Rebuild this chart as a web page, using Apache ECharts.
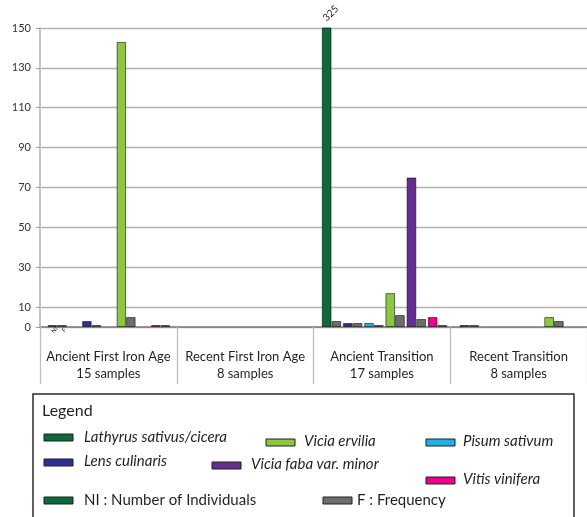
<!DOCTYPE html>
<html>
<head>
<meta charset="utf-8">
<script src="https://cdn.jsdelivr.net/npm/echarts@6/dist/echarts.min.js"></script>
<style>
  html, body { margin: 0; padding: 0; background: #fff; }
  #chart { width: 587px; height: 517px; }
</style>
</head>
<body>
<div id="chart"></div>
<script>
// Periods on the horizontal axis and their sample counts
const periods = ['Ancient First Iron Age', 'Recent First Iron Age', 'Ancient Transition', 'Recent Transition'];
const sampleCounts = [15, 8, 17, 8];
const yTicks = [0, 10, 30, 50, 70, 90, 110, 130, 150];

// Ancient First Iron Age
const afiaTaxa = ['Lathyrus sativus/cicera', 'Lens culinaris', 'Vicia ervilia', 'Vitis vinifera'];
const afiaNI = [1, 3, 143, 1];
const afiaF = [1, 1, 5, 1];

// Ancient Transition
const atTaxa = ['Lathyrus sativus/cicera', 'Lens culinaris', 'Pisum sativum', 'Vicia ervilia', 'Vicia faba var. minor', 'Vitis vinifera'];
const atNI = [325, 2, 2, 17, 75, 5];
const atF = [3, 2, 1, 6, 4, 1];

// Recent Transition (null = taxon absent)
const rtTaxa = ['Lathyrus sativus/cicera', 'Lens culinaris', 'Pisum sativum', 'Vicia faba var. minor', 'Vicia ervilia', 'Vitis vinifera'];
const rtNI = [1, null, null, null, 5, null];
const rtF = [1, null, null, null, 3, null];

const taxonColors = {
  'Lathyrus sativus/cicera': '#0b6b3a',
  'Lens culinaris': '#2e3192',
  'Pisum sativum': '#1fb0e6',
  'Vicia ervilia': '#8dc63f',
  'Vicia faba var. minor': '#662d91',
  'Vitis vinifera': '#ec008c'
};
const freqColor = '#6d6e70';
const yMax = 150;
const FONT = 'Lato, "Open Sans", sans-serif';

const chart = echarts.init(document.getElementById('chart'), null, { renderer: 'canvas' });

const plotTop = 28, plotHeight = 299;
const grids = [
  { left: 40, top: plotTop, width: 551, height: plotHeight },       // frame: axes and gridlines
  { left: 40, top: plotTop, width: 137.75, height: plotHeight },    // Ancient First Iron Age bars
  { left: 320.9, top: plotTop, width: 127.2, height: plotHeight },  // Ancient Transition bars
  { left: 458.6, top: plotTop, width: 127.2, height: plotHeight }   // Recent Transition bars
];

const barBorder = { borderColor: 'rgba(0,0,0,0.55)', borderWidth: 1 };

function pairSeries(gridIdx, taxa, ni, f, tagFirst, barWidth, catGap) {
  const niData = ni.map((v, i) => {
    if (v == null) return null;
    const item = { value: v, itemStyle: Object.assign({ color: taxonColors[taxa[i]] }, barBorder) };
    if (v > yMax) {
      // value beyond the axis range: the bar is clipped and its value written above it
      item.label = {
        show: true, position: 'top', distance: 3, rotate: 45,
        align: 'left', verticalAlign: 'bottom', offset: [2, 0],
        formatter: '{c}', fontSize: 10, fontFamily: FONT, color: '#231f20'
      };
    }
    if (tagFirst && i === 0) {
      item.label = {
        show: true, position: 'bottom', distance: 1, rotate: 45,
        formatter: 'NI', fontSize: 6, fontFamily: FONT, color: '#231f20'
      };
    }
    return item;
  });
  const fData = f.map((v, i) => {
    if (v == null) return null;
    const item = { value: v };
    if (tagFirst && i === 0) {
      item.label = {
        show: true, position: 'bottom', distance: 1, rotate: 45,
        formatter: 'F', fontSize: 6, fontFamily: FONT, color: '#231f20'
      };
    }
    return item;
  });
  return [
    {
      name: 'NI', type: 'bar', xAxisIndex: gridIdx, yAxisIndex: gridIdx,
      data: niData, barWidth: barWidth, barGap: '0%', barCategoryGap: catGap,
      itemStyle: barBorder, animation: false
    },
    {
      name: 'F', type: 'bar', xAxisIndex: gridIdx, yAxisIndex: gridIdx,
      data: fData, barWidth: barWidth, barGap: '0%', barCategoryGap: catGap,
      itemStyle: Object.assign({ color: freqColor }, barBorder), animation: false
    }
  ];
}

const hiddenX = (gi, data) => ({
  type: 'category', gridIndex: gi, data: data, show: false, boundaryGap: true
});
const hiddenY = (gi) => ({
  type: 'value', gridIndex: gi, min: 0, max: yMax, show: false, splitLine: { show: false }
});

// Legend entries drawn in the boxed key below the chart
const legendTaxa = [
  { name: 'Lathyrus sativus/cicera', sx: 44, sy: 434, tx: 84, ty: 437 },
  { name: 'Vicia ervilia', sx: 266, sy: 439, tx: 304, ty: 441 },
  { name: 'Pisum sativum', sx: 426, sy: 439, tx: 463, ty: 441 },
  { name: 'Lens culinaris', sx: 44, sy: 459, tx: 84, ty: 461 },
  { name: 'Vicia faba var. minor', sx: 212, sy: 462, tx: 251, ty: 464 },
  { name: 'Vitis vinifera', sx: 426, sy: 477, tx: 463, ty: 479 }
];
const legendMeasures = [
  { text: 'NI : Number of Individuals', color: taxonColors['Lathyrus sativus/cicera'], sx: 44, sy: 497, tx: 84, ty: 500 },
  { text: 'F : Frequency', color: freqColor, sx: 323, sy: 497, tx: 357, ty: 500 }
];

const graphic = [
  { type: 'rect', shape: { x: 33, y: 394, width: 541, height: 140 },
    style: { fill: 'none', stroke: '#2b2b2b', lineWidth: 1.5 } },
  { type: 'text', x: 42, y: 403, style: { text: 'Legend', font: '16px ' + FONT, fill: '#231f20' } }
];
function swatch(x, y, color) {
  return { type: 'rect', shape: { x: x, y: y, width: 29, height: 7 },
    style: { fill: color, stroke: '#231f20', lineWidth: 1 } };
}
legendTaxa.forEach(e => {
  graphic.push(swatch(e.sx, e.sy, taxonColors[e.name]));
  graphic.push({ type: 'text', x: e.tx, y: e.ty,
    style: { text: e.name, font: 'italic 15px ' + FONT, fill: '#231f20', verticalAlign: 'middle' } });
});
legendMeasures.forEach(e => {
  graphic.push(swatch(e.sx, e.sy, e.color));
  graphic.push({ type: 'text', x: e.tx, y: e.ty,
    style: { text: e.text, font: '15px ' + FONT, fill: '#231f20', verticalAlign: 'middle' } });
});

const option = {
  animation: false,
  backgroundColor: '#ffffff',
  grid: grids,
  xAxis: [
    {
      type: 'category', gridIndex: 0, data: periods, boundaryGap: true,
      axisLine: { show: true, lineStyle: { color: '#7c7c7c', width: 1.5 } },
      axisTick: { show: true, length: 57, lineStyle: { color: '#bdbdbd', width: 1.3 } },
      axisLabel: {
        interval: 0, align: 'center', margin: 21, fontSize: 13, lineHeight: 17,
        color: '#231f20', fontFamily: FONT,
        formatter: (v, i) => v + '\n' + sampleCounts[i] + ' samples'
      },
      splitLine: { show: false }
    },
    hiddenX(1, afiaTaxa),
    hiddenX(2, atTaxa),
    hiddenX(3, rtTaxa)
  ],
  yAxis: [
    {
      type: 'value', gridIndex: 0, min: 0, max: yMax,
      axisLine: { show: true, lineStyle: { color: '#c4c4c4', width: 2 } },
      axisTick: { show: true, length: 4, customValues: yTicks, lineStyle: { color: '#9a9a9a' } },
      axisLabel: { customValues: yTicks, fontSize: 11, color: '#333', margin: 9, fontFamily: FONT },
      splitLine: { show: true, lineStyle: { color: '#b3b3b3', width: 1.3 } }
    },
    hiddenY(1), hiddenY(2), hiddenY(3)
  ],
  series: [].concat(
    pairSeries(1, afiaTaxa, afiaNI, afiaF, true, 9.5, '45%'),
    pairSeries(2, atTaxa, atNI, atF, false, 9.7, '8%'),
    pairSeries(3, rtTaxa, rtNI, rtF, false, 9.7, '8%')
  ),
  graphic: graphic
};

chart.setOption(option);
</script>
</body>
</html>
